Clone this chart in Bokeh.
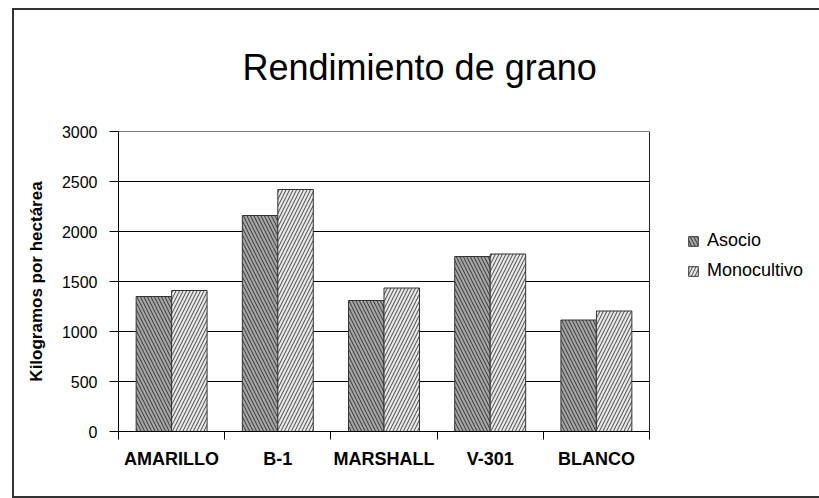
import numpy as np
from bokeh.plotting import figure
from bokeh.models import (ColumnDataSource, FixedTicker, Legend, LegendItem, Range1d, Span,
                          InlineStyleSheet)
from bokeh.transform import dodge
from bokeh.embed import file_html
from bokeh.resources import INLINE

# ---- data ----
categories = ["AMARILLO", "B-1", "MARSHALL", "V-301", "BLANCO"]
asocio = [1350, 2160, 1310, 1750, 1115]
monocultivo = [1410, 2420, 1435, 1775, 1205]
series_names = ["Asocio", "Monocultivo"]
y_ticks = [0, 500, 1000, 1500, 2000, 2500, 3000]
title_text = "Rendimiento de grano"
y_label = "Kilogramos por hectárea"

FONT = "Liberation Sans"
n = len(categories)
centers = list(np.arange(n) + 0.5)
bounds = list(np.arange(n + 1))
bar_w = 0.334

W, H = 811, 490
ML, MR, MT, MB = 118, 2, 131, 59
plot_px = 531                      # width of the bar area in pixels
frame_px = W - ML - MR
x_end = n * frame_px / plot_px     # frame extends right to host the legend

src = ColumnDataSource(dict(x=centers, cat=categories, asocio=asocio, mono=monocultivo))
grid_src = ColumnDataSource(dict(y=y_ticks, x0=[0] * len(y_ticks), x1=[n] * len(y_ticks)))

p = figure(width=W, height=H, x_range=Range1d(0, x_end), y_range=Range1d(0, 3000),
           output_backend="svg", toolbar_location=None,
           min_border_left=ML, min_border_right=MR, min_border_top=MT, min_border_bottom=MB)
p.stylesheets = [InlineStyleSheet(css=(
    ":host::after{content:'';position:absolute;left:12px;top:8px;width:812px;height:490px;"
    "border:2px solid #333;border-right:none;box-sizing:border-box;pointer-events:none;z-index:10;}"))]
p.background_fill_color = "white"
p.border_fill_color = "white"
p.outline_line_color = None

# horizontal grid lines limited to the bar area
p.xgrid.visible = False
p.ygrid.visible = False
p.segment(x0="x0", x1="x1", y0="y", y1="y", source=grid_src, line_color="black",
          line_width=1, level="underlay")
p.add_layout(Span(location=n, dimension="height", line_color="#222222", line_width=1))

r1 = p.vbar(x=dodge("x", -bar_w / 2, range=p.x_range), top="asocio", width=bar_w, source=src,
            fill_color="#a6a6a6", line_color="#333333", line_width=1,
            hatch_pattern="\\", hatch_color="#333333", hatch_weight=1, hatch_scale=7)
r2 = p.vbar(x=dodge("x", bar_w / 2, range=p.x_range), top="mono", width=bar_w, source=src,
            fill_color="#e8e8e8", line_color="#333333", line_width=1,
            hatch_pattern="/", hatch_color="#444444", hatch_weight=1, hatch_scale=7)

# y axis
ya = p.yaxis[0]
ya.ticker = FixedTicker(ticks=y_ticks)
ya.axis_line_color = "black"
ya.major_tick_line_color = "black"
ya.major_tick_out = 9
ya.major_tick_in = 0
ya.minor_tick_line_color = None
ya.major_label_standoff = 12
ya.major_label_text_font = FONT
ya.major_label_text_font_size = "16px"
ya.major_label_text_color = "black"
ya.axis_label = y_label
ya.axis_label_text_font = FONT
ya.axis_label_text_font_size = "17px"
ya.axis_label_text_font_style = "bold"
ya.axis_label_text_color = "black"
ya.axis_label_standoff = 13

# x axis: labels at centres, ticks at category boundaries
xa = p.xaxis[0]
xa.bounds = (0, n)
xa.ticker = FixedTicker(ticks=centers, minor_ticks=bounds)
xa.major_label_overrides = {c: lab for c, lab in zip(centers, categories)}
xa.axis_line_color = "black"
xa.major_tick_line_color = None
xa.major_tick_out = 0
xa.major_tick_in = 0
xa.minor_tick_line_color = "black"
xa.minor_tick_out = 8
xa.minor_tick_in = 0
xa.major_label_standoff = 9
xa.major_label_text_font = FONT
xa.major_label_text_font_size = "18px"
xa.major_label_text_font_style = "bold"
xa.major_label_text_color = "black"

# title
p.title.text = title_text
p.title.align = "left"
p.title.offset = 124
p.title.text_font = FONT
p.title.text_font_size = "36px"
p.title.text_font_style = "normal"
p.title.text_color = "black"
p.title.vertical_align = "top"
p.title.standoff = 84

legend = Legend(items=[LegendItem(label=series_names[0], renderers=[r1]),
                       LegendItem(label=series_names[1], renderers=[r2])],
                location=(569, 150), orientation="vertical",
                glyph_width=12, glyph_height=12, label_standoff=8, spacing=9,
                padding=0, margin=0, border_line_color=None, background_fill_alpha=0,
                label_text_font=FONT, label_text_font_size="18px", label_text_color="black")
p.add_layout(legend, "center")

open("out.html", "w").write(file_html(p, INLINE))
